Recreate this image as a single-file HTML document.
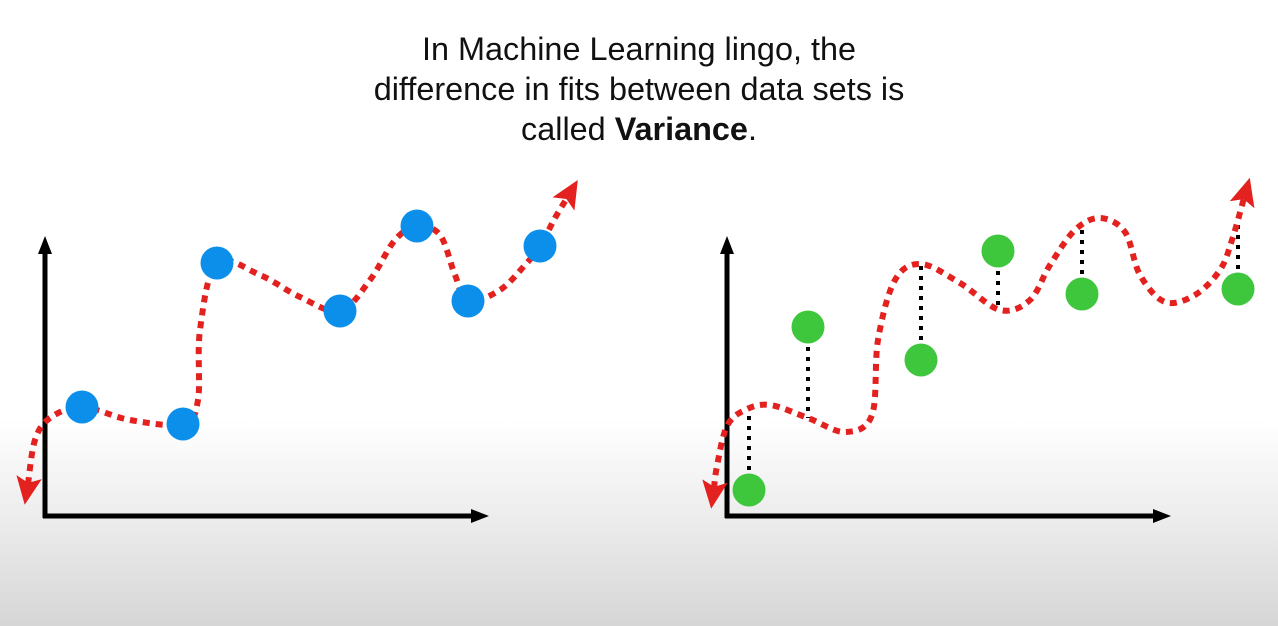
<!DOCTYPE html>
<html><head><meta charset="utf-8"><style>
html,body{margin:0;padding:0;}
body{width:1278px;height:626px;overflow:hidden;background:linear-gradient(to bottom,#fff 0,#fff 420px,#ececec 520px,#d6d6d6 626px);font-family:"Liberation Sans",sans-serif;}
#title{position:absolute;left:0;top:29px;width:1278px;text-align:center;font-size:32.4px;line-height:40px;color:#111;}
svg{position:absolute;left:0;top:0;}
</style></head><body>
<div id="title">In Machine Learning lingo, the<br>difference in fits between data sets is<br>called <b>Variance</b>.</div>
<svg id="chart" width="1278" height="626">
<defs>
<marker id="axarr" markerWidth="18" markerHeight="14" refX="2" refY="7" orient="auto" markerUnits="userSpaceOnUse" viewBox="0 0 18 14">
<path d="M0,0 L18,7 L0,14 Z" fill="#000"/></marker>
</defs>
</svg>
<script>
// data in chart units (x right of origin, y above origin)
const leftPointsX=[37,138,172,295,372,423,495];
const leftPointsY=[109,92,253,205,290,215,270];
const leftCurveX=[-17,-10,5,37,85,138,153,155,172,215,255,295,325,350,372,395,410,423,455,480,495,510,522];
const leftCurveY=[32,76,98,109,96,92,116,186,253,241,219,205,236,276,290,281,241,215,226,251,270,298,318];
const rightPointsX=[22,81,194,271,355,511];
const rightPointsY=[26,189,156,265,222,227];
const rightFitY=[104,98,252,206,291,291];
const rightCurveX=[-13,-10,0,18,43,81,118,145,151,168,194,233,273,303,323,348,373,398,413,438,468,493,505,517];
const rightCurveY=[28,50,90,106,111,98,84,101,176,236,252,233,206,216,251,286,298,284,241,214,221,246,276,318];
const svg=document.getElementById('chart');
const NS='http://www.w3.org/2000/svg';
const defs=svg.querySelector('defs');
function mkMarker(id,d,refX){const m=document.createElementNS(NS,'marker');
 m.setAttribute('id',id);m.setAttribute('markerWidth',28);m.setAttribute('markerHeight',26);m.setAttribute('viewBox','0 0 24 22');
 m.setAttribute('refX',refX);m.setAttribute('refY',11);m.setAttribute('orient','auto');m.setAttribute('markerUnits','userSpaceOnUse');
 const p=document.createElementNS(NS,'path');p.setAttribute('d',d);p.setAttribute('fill','#e3211f');m.appendChild(p);defs.appendChild(m);}
mkMarker('arrE','M0,0 L24,11 L0,22 L5,11 Z',6);
mkMarker('arrS','M24,0 L0,11 L24,22 L19,11 Z',18);
function mk(t,a){const e=document.createElementNS(NS,t);for(const k in a)e.setAttribute(k,a[k]);svg.appendChild(e);return e;}
function scales(ox,oy){return{x:v=>ox+v,y:v=>oy-v};}
function smooth(xs,ys,s){const p=xs.map((x,i)=>[s.x(x),s.y(ys[i])]);let d='M'+p[0][0]+','+p[0][1];
for(let i=0;i<p.length-1;i++){const p0=p[Math.max(0,i-1)],p1=p[i],p2=p[i+1],p3=p[Math.min(p.length-1,i+2)];
const c1=[p1[0]+(p2[0]-p0[0])/6,p1[1]+(p2[1]-p0[1])/6],c2=[p2[0]-(p3[0]-p1[0])/6,p2[1]-(p3[1]-p1[1])/6];
d+=` C${c1[0]},${c1[1]} ${c2[0]},${c2[1]} ${p2[0]},${p2[1]}`;}return d;}
function axes(ox,oy,name){
 let a=mk('line',{x1:ox,y1:oy+2,x2:ox,y2:252,stroke:'#000','stroke-width':5,'marker-end':'url(#axarr)'});
 
 
 a=mk('line',{x1:ox-2,y1:oy,x2:ox+428,y2:oy,stroke:'#000','stroke-width':5,'marker-end':'url(#axarr)'});
 
 
}
// left chart
const L=scales(45,516);
axes(45,516,'left');
let c=mk('path',{d:smooth(leftCurveX,leftCurveY,L),fill:'none',stroke:'#e3211f','stroke-width':6,'stroke-dasharray':'7 6','marker-start':'url(#arrS)','marker-end':'url(#arrE)'});


leftPointsX.forEach((x,i)=>{const e=mk('circle',{cx:L.x(x),cy:L.y(leftPointsY[i]),r:16.5,fill:'#0b8fea'});
 
 });
// right chart
const R=scales(727,516);
axes(727,516,'right');
rightPointsX.forEach((x,i)=>{const e=mk('line',{x1:R.x(x),y1:R.y(rightPointsY[i]),x2:R.x(x),y2:R.y(rightFitY[i]),stroke:'#000','stroke-width':4,'stroke-dasharray':'4 6'});
 
 });
c=mk('path',{d:smooth(rightCurveX,rightCurveY,R),fill:'none',stroke:'#e3211f','stroke-width':6,'stroke-dasharray':'7 6','marker-start':'url(#arrS)','marker-end':'url(#arrE)'});


rightPointsX.forEach((x,i)=>{const e=mk('circle',{cx:R.x(x),cy:R.y(rightPointsY[i]),r:16.5,fill:'#3ec63c'});
 
 });
</script>
</body></html>
